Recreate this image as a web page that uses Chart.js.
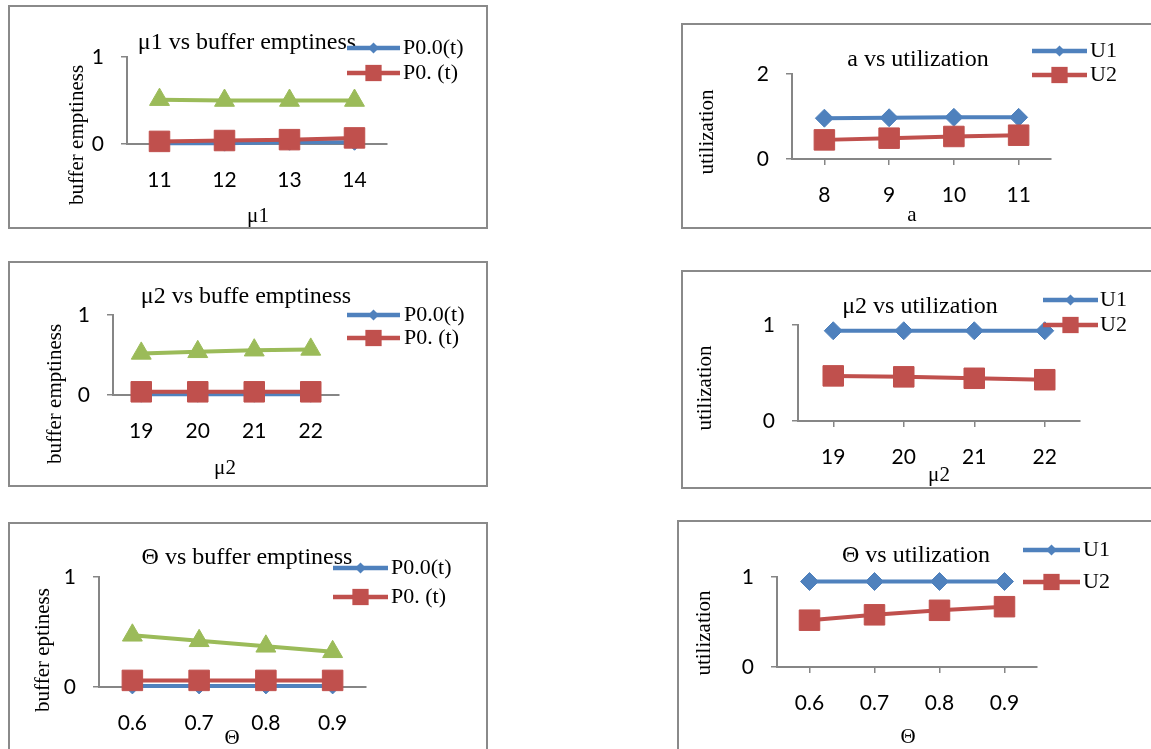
<!DOCTYPE html>
<html lang="en">
<head>
<meta charset="UTF-8">
<title>Buffer emptiness and utilization</title>
<script src="https://cdn.jsdelivr.net/npm/chart.js"></script>
<style>
    body { margin: 0; background: #fff; }
    #page { position: relative; width: 1151px; height: 749px; overflow: hidden; }
    .panel { position: absolute; border: 2px solid #8a8a8a; box-sizing: border-box; }
    .panel canvas { position: absolute; left: -2px; top: -2px; }
</style>
</head>
<body>
<div id="page"></div>

<script>
    // values
    const muOneCats = ['11', '12', '13', '14'];
    const muOneP00 = [0.01, 0.01, 0.02, 0.02];
    const muOneP0 = [0.03, 0.04, 0.05, 0.07];
    const muOneThird = [0.51, 0.5, 0.5, 0.5];

    const aCats = ['8', '9', '10', '11'];
    const aU1 = [0.96, 0.97, 0.98, 0.98];
    const aU2 = [0.45, 0.49, 0.53, 0.56];

    const muTwoCats = ['19', '20', '21', '22'];
    const muTwoP00 = [0.01, 0.01, 0.01, 0.01];
    const muTwoP0 = [0.04, 0.04, 0.04, 0.04];
    const muTwoThird = [0.52, 0.54, 0.56, 0.57];
    const muTwoU1 = [0.94, 0.94, 0.94, 0.94];
    const muTwoU2 = [0.47, 0.46, 0.445, 0.43];

    const thetaCats = ['0.6', '0.7', '0.8', '0.9'];
    const thetaP00 = [0.01, 0.01, 0.01, 0.01];
    const thetaP0 = [0.06, 0.06, 0.06, 0.06];
    const thetaThird = [0.47, 0.42, 0.37, 0.32];
    const thetaU1 = [0.95, 0.95, 0.95, 0.95];
    const thetaU2 = [0.52, 0.58, 0.63, 0.67];

    const BLUE = '#4F81BD', RED = '#C0504D', GREEN = '#9BBB59', AXIS = '#868686';
    const SERIF = '"Liberation Serif", "Times New Roman", serif';

    function blue(label, data, r) {
        return { label: label, data: data, borderColor: BLUE, backgroundColor: BLUE,
                 pointStyle: 'rectRot', pointRadius: r, legendRadius: 5.5, order: 2 };
    }
    function red(label, data) {
        return { label: label, data: data, borderColor: RED, backgroundColor: RED,
                 pointStyle: 'rect', pointRadius: 14.5, legendRadius: 11.5, order: 1 };
    }
    function green(data) {
        return { label: '', data: data, borderColor: GREEN, backgroundColor: GREEN,
                 pointStyle: 'triangle', pointRadius: 11.5, order: 0 };
    }

    // page layout of the six panels (box and plot area in page pixels)
    const panels = [
        { box: [8, 5, 488, 229], plot: [127, 57, 387, 144], yMax: 1,
          title: ['μ1 vs buffer emptiness', 247, 43], yTitle: ['buffer emptiness', 77, 135], xTitle: ['μ1', 258, 216],
          legend: { x1: 347, x2: 400, tx: 403, rows: [48, 73] },
          labels: muOneCats,
          datasets: [blue('P0.0(t)', muOneP00, 8), red('P0. (t)', muOneP0), green(muOneThird)] },
        { box: [681, 23, 1160, 229], plot: [792, 74, 1051, 159], yMax: 2,
          title: ['a vs utilization', 918, 60], yTitle: ['utilization', 707, 132], xTitle: ['a', 912, 215],
          legend: { x1: 1032, x2: 1087, tx: 1090, rows: [51, 75] },
          labels: aCats,
          datasets: [blue('U1', aU1, 9), red('U2', aU2)] },
        { box: [8, 261, 488, 487], plot: [113, 315, 339, 395], yMax: 1,
          title: ['μ2 vs buffe emptiness', 246, 297], yTitle: ['buffer emptiness', 55, 394], xTitle: ['μ2', 225, 468],
          legend: { x1: 347, x2: 400, tx: 404, rows: [315, 338] },
          labels: muTwoCats,
          datasets: [blue('P0.0(t)', muTwoP00, 8), red('P0. (t)', muTwoP0), green(muTwoThird)] },
        { box: [681, 270, 1160, 489], plot: [798, 325, 1080, 421], yMax: 1,
          title: ['μ2 vs utilization', 920, 307], yTitle: ['utilization', 705, 388], xTitle: ['μ2', 939, 475],
          legend: { x1: 1043, x2: 1098, tx: 1100, rows: [300, 325] },
          labels: muTwoCats,
          datasets: [blue('U1', muTwoU1, 9), red('U2', muTwoU2)] },
        { box: [8, 522, 488, 760], plot: [99, 577, 366, 687], yMax: 1,
          title: ['Θ vs buffer emptiness', 247, 558], yTitle: ['buffer eptiness', 43, 650], xTitle: ['Θ', 232, 738],
          legend: { x1: 333, x2: 388, tx: 391, rows: [568, 597] },
          labels: thetaCats,
          datasets: [blue('P0.0(t)', thetaP00, 8), red('P0. (t)', thetaP0), green(thetaThird)] },
        { box: [677, 520, 1160, 760], plot: [777, 577, 1037, 667], yMax: 1,
          title: ['Θ vs utilization', 916, 556], yTitle: ['utilization', 704, 633], xTitle: ['Θ', 908, 737],
          legend: { x1: 1023, x2: 1080, tx: 1083, rows: [550, 582] },
          labels: thetaCats,
          datasets: [blue('U1', thetaU1, 9), red('U2', thetaU2)] }
    ];

    // titles, axis titles and the small legend, placed like the original sheet
    const panelText = {
        id: 'panelText',
        afterDraw(chart, args, o) {
            const ctx = chart.ctx;
            const ox = o.box[0], oy = o.box[1];
            ctx.save();
            ctx.fillStyle = '#000';
            ctx.textBaseline = 'middle';
            ctx.textAlign = 'center';
            ctx.font = '24px ' + SERIF;
            ctx.fillText(o.title[0], o.title[1] - ox, o.title[2] - oy);
            ctx.font = '21px ' + SERIF;
            ctx.fillText(o.xTitle[0], o.xTitle[1] - ox, o.xTitle[2] - oy);
            ctx.save();
            ctx.translate(o.yTitle[1] - ox, o.yTitle[2] - oy);
            ctx.rotate(-Math.PI / 2);
            ctx.fillText(o.yTitle[0], 0, 0);
            ctx.restore();

            const lg = o.legend;
            let row = 0;
            chart.data.datasets.forEach(ds => {
                if (!ds.label) return;
                const y = lg.rows[row++] - oy;
                ctx.strokeStyle = ds.borderColor;
                ctx.lineWidth = 4.5;
                ctx.beginPath();
                ctx.moveTo(lg.x1 - ox, y);
                ctx.lineTo(lg.x2 - ox, y);
                ctx.stroke();
                ctx.fillStyle = ds.backgroundColor;
                Chart.helpers.drawPoint(ctx, { pointStyle: ds.pointStyle, radius: ds.legendRadius, rotation: 0, borderWidth: 0 },
                    (lg.x1 + lg.x2) / 2 - ox, y);
                ctx.fillStyle = '#000';
                ctx.textAlign = 'left';
                ctx.font = '22px ' + SERIF;
                ctx.fillText(ds.label, lg.tx - ox, y);
            });
            ctx.restore();
        }
    };

    const page = document.getElementById('page');
    const YW = 60, XH = 50;

    panels.forEach((p, i) => {
        const [L, T, R, B] = p.box;
        const [pl, pt, pr, pb] = p.plot;
        const div = document.createElement('div');
        div.className = 'panel';
        div.style.left = L + 'px';
        div.style.top = T + 'px';
        div.style.width = (R - L) + 'px';
        div.style.height = (B - T) + 'px';
        const canvas = document.createElement('canvas');
        canvas.width = R - L;
        canvas.height = B - T;
        canvas.style.width = (R - L) + 'px';
        canvas.style.height = (B - T) + 'px';
        div.appendChild(canvas);
        page.appendChild(div);

        p.datasets.forEach(ds => {
            ds.borderWidth = 4;
            ds.pointBorderWidth = 1;
            ds.pointBorderColor = ds.borderColor;
            ds.pointBackgroundColor = ds.backgroundColor;
            ds.tension = 0;
            ds.clip = false;
        });

        new Chart(canvas, {
            type: 'line',
            data: { labels: p.labels, datasets: p.datasets },
            options: {
                responsive: false,
                animation: false,
                layout: {
                    autoPadding: false,
                    padding: { left: pl - L - YW, top: pt - T, right: R - pr, bottom: B - pb - XH }
                },
                plugins: {
                    legend: { display: false },
                    tooltip: { enabled: false },
                    panelText: p
                },
                scales: {
                    x: {
                        offset: true,
                        afterFit: s => { s.height = XH; },
                        border: { color: AXIS, width: 2 },
                        grid: { drawOnChartArea: false, color: AXIS, tickLength: 6, lineWidth: 1.5 },
                        ticks: { color: '#000', padding: 18, font: { family: 'Lato', size: 21 } }
                    },
                    y: {
                        min: 0,
                        max: p.yMax,
                        afterFit: s => { s.width = YW; },
                        border: { color: AXIS, width: 2 },
                        grid: { drawOnChartArea: false, color: AXIS, tickLength: 6, lineWidth: 1.5 },
                        ticks: { stepSize: p.yMax, color: '#000', padding: 17, font: { family: 'Lato', size: 21 } }
                    }
                }
            },
            plugins: [panelText]
        });
    });
</script>
</body>
</html>
